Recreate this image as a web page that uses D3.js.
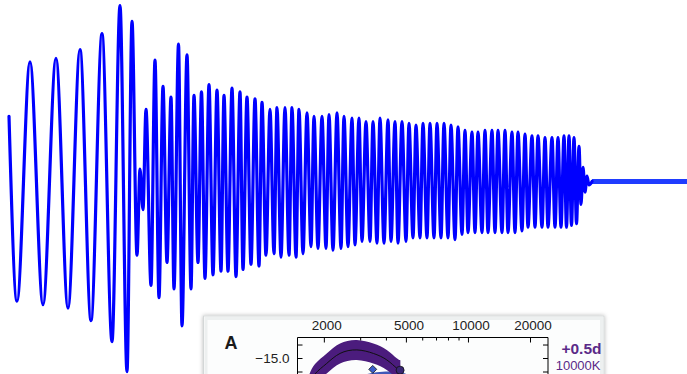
<!DOCTYPE html>
<html>
<head>
<meta charset="utf-8">
<script src="https://cdn.jsdelivr.net/npm/d3@7"></script>
<style>
  html, body { margin: 0; padding: 0; background: #fff; }
  svg { display: block; font-family: "Liberation Sans", Arial, Helvetica, sans-serif; }
</style>
</head>
<body>
<svg id="chart" width="687" height="374"></svg>
<script>
// Strain waveform, given as its successive extrema (time in ms, strain relative to peak)
const waveT = [
  0, 4, 10.5, 17, 23.5, 29.5, 35.5, 41, 46.5, 51.5,
  55.5, 59, 61.5, 64, 65.5, 67, 68.5, 71, 73, 75,
  77, 79, 81, 82.5, 84.75, 86.5, 89, 91, 92.5, 94.5,
  96.25, 98, 100, 102, 104, 106, 107.5, 109.5, 111.5, 113.5,
  115.5, 117, 119, 121, 123, 125, 126.5, 128.5, 130.5, 132.5,
  134, 136, 138, 140, 141.5, 143.5, 145, 147, 149, 151,
  152.5, 154.5, 156.5, 158.5, 160, 162, 164, 166, 167.5, 169.5,
  171.5, 173, 175, 176.5, 178.5, 180.5, 182, 184, 185.5, 187.5,
  189.5, 191, 193, 194.5, 196.5, 198.5, 200, 202, 203.5, 205.5,
  207, 209, 210.5, 212.5, 214, 216, 217.5, 219.5, 221, 223,
  224.5, 226.5, 228, 229.5, 231.5, 233, 234.5, 236.5, 238, 239.5,
  241.5, 243, 244.5, 246.5, 248, 249.5, 251.5, 253, 254.5, 256.5,
  258, 259.5, 261.5, 263, 264.5, 266.5, 268, 269.5, 271.5, 273,
  274.5, 276, 277.5, 278.75, 280, 281.25, 282.5, 283.75, 285, 286,
  287, 288, 289, 290, 291.5
];
const waveH = [
  0.37, -0.68, 0.68, -0.70, 0.70, -0.72, 0.75, -0.79, 0.84, -0.91,
  1.00, -1.08, 0.91, -0.42, 0.07, -0.16, 0.41, -0.59, 0.69, -0.66,
  0.54, -0.46, 0.48, -0.61, 0.78, -0.82, 0.72, -0.61, 0.49, -0.46,
  0.51, -0.55, 0.55, -0.53, 0.52, -0.51, 0.49, -0.51, 0.53, -0.54,
  0.51, -0.50, 0.48, -0.47, 0.47, -0.48, 0.45, -0.42, 0.41, -0.41,
  0.42, -0.43, 0.42, -0.42, 0.42, -0.43, 0.41, -0.41, 0.39, -0.37,
  0.37, -0.38, 0.37, -0.38, 0.38, -0.39, 0.39, -0.38, 0.37, -0.37,
  0.36, -0.36, 0.36, -0.34, 0.34, -0.34, 0.34, -0.35, 0.36, -0.35,
  0.35, -0.34, 0.34, -0.35, 0.34, -0.34, 0.33, -0.32, 0.32, -0.32,
  0.33, -0.32, 0.33, -0.32, 0.33, -0.32, 0.33, -0.32, 0.32, -0.33,
  0.31, -0.30, 0.29, -0.29, 0.28, -0.29, 0.28, -0.29, 0.29, -0.29,
  0.29, -0.29, 0.29, -0.29, 0.29, -0.29, 0.28, -0.29, 0.28, -0.28,
  0.27, -0.26, 0.26, -0.26, 0.26, -0.26, 0.25, -0.26, 0.25, -0.26,
  0.25, -0.26, 0.26, -0.26, 0.26, -0.25, 0.25, -0.24, 0.20, -0.13,
  0.08, -0.06, 0.03, -0.02, 0
];
// Quiet stretch after the ringdown
const tailT = [291.5, 339];
const tailH = [0, 0];

// Panel A: spectral energy distribution at +0.5 d
const wavelengthMajor = [2000, 5000, 10000, 20000];
const wavelengthMinor = [3000, 4000, 6000, 7000, 8000, 9000];
const magTicks = [-15.5, -15.0, -14.5];
const magLabelled = [-15.0];
const sedWave = [1700, 1812, 2065, 2396, 2888, 3477, 4039, 4516, 4700];
const sedMag = [-14.02, -14.41, -14.80, -15.17, -15.30, -15.17, -14.93, -14.62, -14.55];
const sedSpread = 0.37;
const laterWave = [3000, 3600, 4200, 4800, 5400];
const laterMag = [-13.98, -14.10, -14.13, -14.08, -13.95];
const photWave = [3453];
const photMag = [-14.58];
const uvotWave = [4687];
const uvotMag = [-14.55];
const epochLabel = "+0.5d";
const tempLabel = "10000K";
const panelLabel = "A";

const svg = d3.select("#chart");

const defs = svg.append("defs");
const shadow = defs.append("filter").attr("id", "panelShadow")
  .attr("x", "-5%").attr("y", "-20%").attr("width", "110%").attr("height", "140%");
shadow.append("feDropShadow").attr("dx", 0).attr("dy", 0)
  .attr("stdDeviation", 2.2).attr("flood-color", "#000").attr("flood-opacity", 0.28);

// ---- waveform ----
const xW = d3.scaleLinear().domain([0, 339]).range([9, 687]);
const yW = d3.scaleLinear().domain([-1, 1]).range([357.5, 5.5]);

const waveLine = d3.line()
  .x(i => xW(waveT[i]))
  .y(i => yW(waveH[i]))
  .curve(d3.curveMonotoneX);

svg.append("path")
  .attr("d", d3.line().x(i => xW(tailT[i])).y(i => yW(tailH[i]))(d3.range(tailT.length)))
  .attr("fill", "none")
  .attr("stroke", "#1f3cff")
  .attr("stroke-width", 5);

svg.append("path")
  .attr("d", waveLine(d3.range(waveT.length)))
  .attr("fill", "none")
  .attr("stroke", "#0000ff")
  .attr("stroke-width", 3.2)
  .attr("stroke-linejoin", "round")
  .attr("stroke-linecap", "round");

// ---- panel A ----
const panel = svg.append("g");
panel.append("rect")
  .attr("x", 203.5).attr("y", 316).attr("width", 400.5).attr("height", 90)
  .attr("fill", "#fcfdfd")
  .attr("stroke", "#d3d7d7").attr("stroke-width", 1)
  .attr("filter", "url(#panelShadow)");
panel.append("rect")
  .attr("x", 206).attr("y", 318.5).attr("width", 395.5).attr("height", 90)
  .attr("fill", "none")
  .attr("stroke", "#edf0f0").attr("stroke-width", 3);

const xL = d3.scaleLog().domain([1490, 24450]).range([297.5, 548]);
const yM = d3.scaleLinear().domain([-15.76, -14]).range([337.5, 385]);

const plot = panel.append("g");
plot.append("clipPath").attr("id", "plotClip")
  .append("rect").attr("x", xL.range()[0]).attr("y", yM.range()[0])
  .attr("width", xL.range()[1] - xL.range()[0]).attr("height", 80);

const bands = plot.append("g").attr("clip-path", "url(#plotClip)");

const laterArea = d3.area()
  .x(i => xL(laterWave[i]))
  .y0(i => yM(laterMag[i] + sedSpread))
  .y1(i => yM(laterMag[i] - sedSpread))
  .curve(d3.curveNatural);
bands.append("path")
  .attr("d", laterArea(d3.range(laterWave.length)))
  .attr("fill", "#3f58b8");

const sedArea = d3.area()
  .x(i => xL(sedWave[i]))
  .y0(i => yM(sedMag[i] + sedSpread))
  .y1(i => yM(sedMag[i] - sedSpread))
  .curve(d3.curveNatural);
bands.append("path")
  .attr("d", sedArea(d3.range(sedWave.length)))
  .attr("fill", "#4b1c7d");

const sedLine = d3.line()
  .x(i => xL(sedWave[i]))
  .y(i => yM(sedMag[i]))
  .curve(d3.curveNatural);
bands.append("path")
  .attr("d", sedLine(d3.range(sedWave.length)))
  .attr("fill", "none")
  .attr("stroke", "#111")
  .attr("stroke-width", 1);

bands.selectAll("path.phot").data(d3.range(photWave.length)).join("path")
  .attr("class", "phot")
  .attr("d", d3.symbol(d3.symbolDiamond2, 40)())
  .attr("transform", i => `translate(${xL(photWave[i])},${yM(photMag[i])})`)
  .attr("fill", "#3b5cc8").attr("stroke", "#111").attr("stroke-width", 0.8);

bands.selectAll("circle.uvot").data(d3.range(uvotWave.length)).join("circle")
  .attr("class", "uvot")
  .attr("cx", i => xL(uvotWave[i]))
  .attr("cy", i => yM(uvotMag[i]))
  .attr("r", 4)
  .attr("fill", "#3a2675").attr("stroke", "#111").attr("stroke-width", 0.8);

// frame
const [fx0, fx1] = xL.range();
const fy0 = yM.range()[0];
plot.append("path")
  .attr("d", `M${fx0},${fy0 + 80}V${fy0}H${fx1}V${fy0 + 80}`)
  .attr("fill", "none").attr("stroke", "#000").attr("stroke-width", 1);

function styleAxis(g) {
  g.select(".domain").remove();
  g.selectAll("line").attr("stroke", "#000").attr("stroke-width", 1);
  g.selectAll("text")
    .attr("font-family", "'Liberation Sans', Arial, Helvetica, sans-serif")
    .attr("font-size", 13.5)
    .attr("fill", "#222");
}

plot.append("g").attr("transform", `translate(0,${fy0})`)
  .call(d3.axisTop(xL).tickValues(wavelengthMinor).tickSize(-3).tickFormat(""))
  .call(styleAxis);
plot.append("g").attr("transform", `translate(0,${fy0})`)
  .call(d3.axisTop(xL).tickValues(wavelengthMajor).tickSize(-5).tickPadding(7.5)
    .tickFormat(d3.format("d")))
  .call(styleAxis)
  .selectAll("text").attr("dx", 2.5);

const fmtMag = d => (magLabelled.includes(d) ? d3.format(".1f")(d) : "");
plot.append("g").attr("transform", `translate(${fx0},0)`)
  .call(d3.axisLeft(yM).tickValues(magTicks).tickSize(-5).tickPadding(8).tickFormat(fmtMag))
  .call(styleAxis);
plot.append("g").attr("transform", `translate(${fx1},0)`)
  .call(d3.axisRight(yM).tickValues(magTicks).tickSize(-5).tickFormat(""))
  .call(styleAxis);

panel.append("text")
  .attr("x", 231).attr("y", 349)
  .attr("text-anchor", "middle")
  .attr("font-size", 18).attr("font-weight", "bold").attr("fill", "#1a1a1a")
  .text(panelLabel);

panel.append("text")
  .attr("x", 601.5).attr("y", 353.5)
  .attr("text-anchor", "end")
  .attr("font-size", 15.5).attr("font-weight", "bold").attr("fill", "#5a2a88")
  .text(epochLabel);
panel.append("text")
  .attr("x", 600.5).attr("y", 369.5)
  .attr("text-anchor", "end")
  .attr("font-size", 13).attr("fill", "#5a2a88")
  .text(tempLabel);
</script>
</body>
</html>
